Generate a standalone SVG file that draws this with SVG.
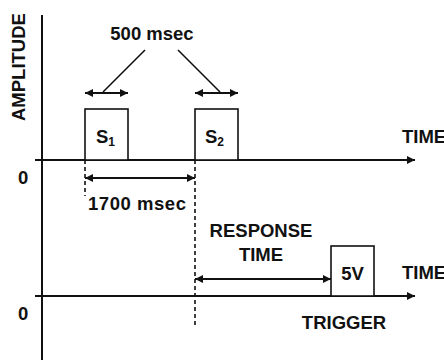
<svg xmlns="http://www.w3.org/2000/svg" width="444" height="360" viewBox="0 0 444 360">
<defs>
<style>
.ln{stroke:#111;stroke-width:2;fill:none}
.thin{stroke:#111;stroke-width:1.6;fill:none}
.box{stroke:#111;stroke-width:1.6;fill:#fff}
.dash{stroke:#111;stroke-width:1.6;fill:none;stroke-dasharray:4 3}
.t{font-family:"Liberation Sans",Arial,sans-serif;font-weight:bold;font-size:18.5px;fill:#111}
</style>
<marker id="ah" viewBox="0 0 10 10" refX="10" refY="5" markerWidth="10" markerHeight="8" markerUnits="userSpaceOnUse" orient="auto-start-reverse">
<path d="M0,0 L10,5 L0,10 Z" fill="#111"/>
</marker>
</defs>
<rect width="444" height="360" fill="#fff"/>
<g id="axes">
<line class="ln" x1="42" y1="15" x2="42" y2="360"/>
<text class="t" transform="translate(24.5,121) rotate(-90)">AMPLITUDE</text>
<text class="t" x="18" y="184">0</text>
<text class="t" x="18" y="320">0</text>
</g>
<g id="connectors">
<line class="ln" x1="35" y1="160" x2="415" y2="160" marker-end="url(#ah)"/>
<line class="ln" x1="35" y1="296" x2="415" y2="296" marker-end="url(#ah)"/>
<line class="dash" x1="85" y1="160" x2="85" y2="196"/>
<line class="dash" x1="195" y1="160" x2="195" y2="328"/>
<line class="ln" x1="85" y1="93" x2="128" y2="93" marker-start="url(#ah)" marker-end="url(#ah)"/>
<line class="ln" x1="195" y1="93" x2="238" y2="93" marker-start="url(#ah)" marker-end="url(#ah)"/>
<line class="thin" x1="145" y1="50" x2="103" y2="92"/>
<line class="thin" x1="178" y1="50" x2="220" y2="92"/>
<line class="ln" x1="85" y1="178" x2="195" y2="178" marker-start="url(#ah)" marker-end="url(#ah)"/>
<line class="ln" x1="195" y1="279" x2="331" y2="279" marker-start="url(#ah)" marker-end="url(#ah)"/>
</g>
<g id="s1">
<rect class="box" x="85" y="109" width="43" height="51"/>
<text class="t" x="96" y="143">S<tspan font-size="12" dy="3">1</tspan></text>
</g>
<g id="s2">
<rect class="box" x="195" y="109" width="43" height="51"/>
<text class="t" x="205" y="143">S<tspan font-size="12" dy="3">2</tspan></text>
</g>
<g id="trigger">
<rect class="box" x="331" y="246" width="43" height="50"/>
<text class="t" x="352.5" y="280" text-anchor="middle">5V</text>
</g>
<g id="labels">
<text class="t" x="152" y="40" text-anchor="middle" font-size="18">500 msec</text>
<text class="t" x="137" y="210" text-anchor="middle" textLength="98">1700 msec</text>
<text class="t" x="261" y="237" text-anchor="middle">RESPONSE</text>
<text class="t" x="261" y="261" text-anchor="middle">TIME</text>
<text class="t" x="344" y="329" text-anchor="middle">TRIGGER</text>
<text class="t" x="402" y="143">TIME</text>
<text class="t" x="402" y="279">TIME</text>
</g>
</svg>
